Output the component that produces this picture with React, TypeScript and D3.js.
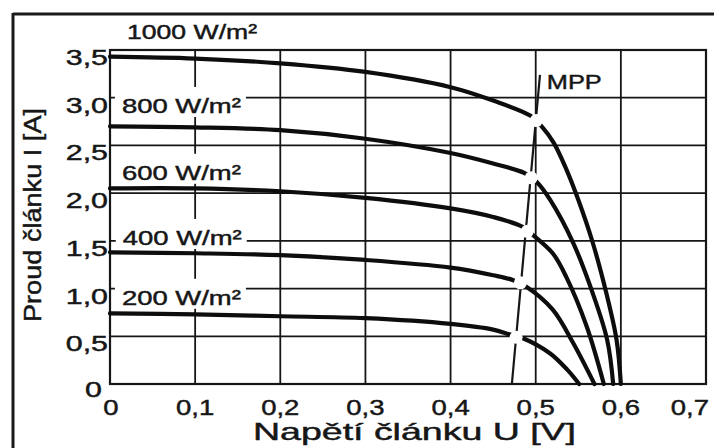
import React from 'react';
import * as d3 from 'd3';

// ---- data ----
const xTicks = [0, 0.1, 0.2, 0.3, 0.4, 0.5, 0.6, 0.7];
const yTicks = [0, 0.5, 1.0, 1.5, 2.0, 2.5, 3.0, 3.5];

const seriesNames = ['1000 W/m²', '800 W/m²', '600 W/m²', '400 W/m²', '200 W/m²'];

const u1000 = [0, 0.1, 0.2, 0.3, 0.4, 0.45, 0.494, 0.507, 0.521, 0.535, 0.55, 0.567, 0.583, 0.595, 0.6];
const i1000 = [3.43, 3.41, 3.36, 3.27, 3.11, 2.97, 2.81, 2.7, 2.53, 2.27, 1.93, 1.48, 0.95, 0.46, 0];

const u800 = [0, 0.1, 0.2, 0.3, 0.4, 0.45, 0.487, 0.501, 0.517, 0.544, 0.567, 0.584, 0.591];
const i800 = [2.7, 2.69, 2.66, 2.57, 2.42, 2.31, 2.21, 2.12, 1.93, 1.48, 0.95, 0.46, 0];

const u600 = [0, 0.1, 0.2, 0.3, 0.4, 0.45, 0.484, 0.497, 0.52, 0.536, 0.56, 0.58];
const i600 = [2.05, 2.05, 2.02, 1.95, 1.84, 1.75, 1.65, 1.56, 1.37, 1.12, 0.6, 0];

const u400 = [0, 0.1, 0.2, 0.3, 0.4, 0.45, 0.473, 0.489, 0.52, 0.544, 0.569];
const i400 = [1.38, 1.37, 1.35, 1.3, 1.22, 1.14, 1.09, 1.02, 0.78, 0.43, 0];

const u200 = [0, 0.1, 0.2, 0.3, 0.4, 0.45, 0.469, 0.485, 0.517, 0.537, 0.551];
const i200 = [0.74, 0.73, 0.71, 0.69, 0.63, 0.57, 0.52, 0.48, 0.32, 0.15, 0];

const seriesU = [u1000, u800, u600, u400, u200];
const seriesI = [i1000, i800, i600, i400, i200];

// maximum power points
const mppU = [0.5006, 0.4947, 0.49, 0.482, 0.477];
const mppI = [2.76, 2.16, 1.6, 1.06, 0.49];
// MPP locus line
const mppLineU = [0.472, 0.505];
const mppLineI = [0, 3.24];

// label anchors (data coords)
const labelU = [0.02, 0.014, 0.014, 0.015, 0.014];
const labelI = [3.615, 2.84, 2.14, 1.457, 0.83];

const FONT = "'Liberation Sans', Arial, Helvetica, sans-serif";
const INK = '#161616';

const fmt = (v: number) => (v === 0 ? '0' : v.toFixed(1).replace('.', ','));

export default function App() {
  const W = 714, H = 448;
  const x = d3.scaleLinear().domain([0, 0.7]).range([110, 706]);
  const y = d3.scaleLinear().domain([0, 3.5]).range([384, 50]);

  const line = d3
    .line<[number, number]>()
    .x((d) => x(d[0]))
    .y((d) => y(d[1]))
    .curve(d3.curveCatmullRom.alpha(0.5));

  const x0 = x(0), x1 = x(0.7), y0 = y(0), y1 = y(3.5);
  const textStroke = { stroke: INK, strokeWidth: 0.45 };

  return (
    <svg
      width={W}
      height={H}
      viewBox={`0 0 ${W} ${H}`}
      style={{ position: 'absolute', left: 0, top: 0, background: '#fff' }}
      fontFamily={FONT}
    >
      <rect x={0} y={0} width={W} height={H} fill="#fff" />
      {/* grid */}
      {xTicks.map((t) => (
        <line key={'gx' + t} x1={x(t)} x2={x(t)} y1={y1} y2={y0} stroke={INK} strokeWidth={1.8} />
      ))}
      {yTicks.map((t) => (
        <line key={'gy' + t} x1={x0} x2={x1} y1={y(t)} y2={y(t)} stroke={INK} strokeWidth={1.8} />
      ))}
      <rect x={x0} y={y1} width={x1 - x0} height={y0 - y1} fill="none" stroke={INK} strokeWidth={2.2} />

      {/* series labels with white masks */}
      {seriesNames.map((name, k) => {
        const lx = x(labelU[k]);
        const ly = y(labelI[k]);
        return (
          <g key={'lab' + k}>
            {k > 0 && <rect x={lx - 7} y={ly - 26} width={131} height={30} fill="#fff" />}
            <text
              x={lx}
              y={ly}
              fontSize={20.5}
              fill={INK}
              {...textStroke}
              textLength={k === 0 ? 130 : 119}
              lengthAdjust="spacingAndGlyphs"
            >
              {name}
            </text>
          </g>
        );
      })}

      {/* curves */}
      {seriesU.map((us, k) => {
        const pts = us.map((u, j) => [u, seriesI[k][j]] as [number, number]);
        return (
          <path key={'c' + k} d={line(pts) || ''} fill="none" stroke="#0d0d0d" strokeWidth={4.2} strokeLinecap="round" />
        );
      })}

      {/* MPP locus */}
      <line
        x1={x(mppLineU[0])}
        y1={y(mppLineI[0])}
        x2={x(mppLineU[1])}
        y2={y(mppLineI[1])}
        stroke={INK}
        strokeWidth={2.2}
      />
      {mppU.map((u, k) => (
        <circle key={'m' + k} cx={x(u)} cy={y(mppI[k])} r={6.5} fill="#fff" />
      ))}
      <text x={x(0.513)} y={y(3.09)} fontSize={21} fill={INK} {...textStroke} textLength={55} lengthAdjust="spacingAndGlyphs">
        MPP
      </text>

      {/* y tick labels */}
      {yTicks.map((t) => (
        <text
          key={'ty' + t}
          transform={`translate(${t === 0 ? x0 - 8 : x0 - 2},${t === 0 ? y(t) + 13 : y(t) + 15}) scale(1.38,1)`}
          textAnchor="end"
          fontSize={22}
          fill={INK}
          {...textStroke}
        >
          {fmt(t)}
        </text>
      ))}
      {/* x tick labels */}
      {xTicks.map((t, i) => (
        <text
          key={'tx' + t}
          transform={`translate(${i === xTicks.length - 1 ? x(t) + 3 : t === 0 ? x(t) + 1 : x(t)},415) scale(1.25,1)`}
          textAnchor={i === xTicks.length - 1 ? 'end' : 'middle'}
          fontSize={22}
          fill={INK}
          {...textStroke}
        >
          {fmt(t)}
        </text>
      ))}

      {/* axis titles */}
      <text x={253} y={440} fontSize={24} fill={INK} {...textStroke} textLength={323} lengthAdjust="spacingAndGlyphs">
        Napětí článku U [V]
      </text>
      <text
        transform={`translate(41,215) rotate(-90)`}
        textAnchor="middle"
        fontSize={23}
        fill={INK}
        {...textStroke}
        textLength={214}
        lengthAdjust="spacingAndGlyphs"
      >
        Proud článku I [A]
      </text>

      {/* outer frame */}
      <line x1={13} x2={13} y1={13} y2={H} stroke="#1a1a1a" strokeWidth={3} />
      <line x1={13} x2={W} y1={14} y2={14} stroke="#1a1a1a" strokeWidth={3} />
    </svg>
  );
}
